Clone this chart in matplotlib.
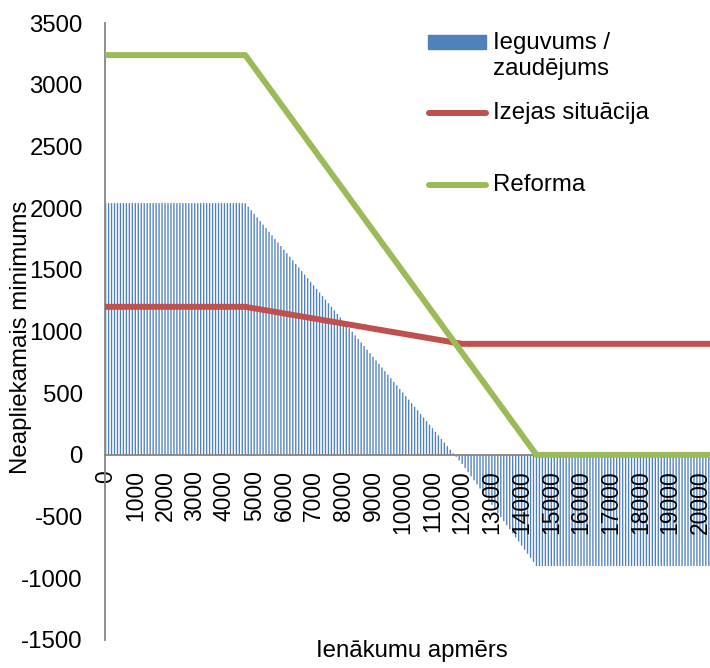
import numpy as np
import matplotlib
matplotlib.use("Agg")
import matplotlib.pyplot as plt
from matplotlib.lines import Line2D
from matplotlib.patches import Rectangle

plt.rcParams['font.family'] = ['Liberation Sans', 'DejaVu Sans']
plt.rcParams['axes.unicode_minus'] = False

# --- data ---
income = np.arange(0, 20301, 100)               # categories (income levels)
reform_x = [0, 4700, 14500, 20300]              # Reforma breakpoints
reform_y = [3240, 3240, 0, 0]
base_x = [0, 4700, 12000, 20300]                # Izejas situācija breakpoints
base_y = [1200, 1200, 900, 900]
xtick_vals = list(range(0, 20001, 1000))
xtick_labels = [str(v) for v in xtick_vals]
ytick_vals = list(range(-1500, 3501, 500))

labels = ["Ieguvums /\nzaudējums", "Izejas situācija", "Reforma"]
c_bar, c_base, c_ref = "#4F81BD", "#C0504D", "#9BBB59"

reform_all = np.interp(income, reform_x, reform_y)
base_all = np.interp(income, base_x, base_y)
gain = reform_all - base_all

FS = 17.3
W, H = 710, 668
fig = plt.figure(figsize=(W / 100, H / 100), dpi=100)
ax = fig.add_axes([105 / W, 1 - 640 / H, (710 - 105) / W, (640 - 23) / H])

for s in ['top', 'right']:
    ax.spines[s].set_visible(False)
ax.spines['bottom'].set_position(('data', 0))
for s in ['left', 'bottom']:
    ax.spines[s].set_color('#868686')
    ax.spines[s].set_linewidth(1.3)
ax.spines['bottom'].set_zorder(2)

ax.bar(income, gain, width=45, color=c_bar, linewidth=0, zorder=1, snap=False)
ax.plot(base_x, base_y, color=c_base, lw=4.3, zorder=3, solid_joinstyle='round')
ax.plot(reform_x, reform_y, color=c_ref, lw=4.3, zorder=4, solid_joinstyle='round')

ax.set_xlim(-20, 20340)
ax.set_ylim(-1500, 3500)
ax.set_yticks(ytick_vals)
ax.set_xticks(xtick_vals)
ax.set_xticklabels(xtick_labels, rotation=90, fontsize=FS - 0.8)
ax.tick_params(axis='y', length=0, pad=16, labelsize=FS)
ax.tick_params(axis='x', length=0, pad=11)

# axis titles
fig.text(21 / W, 1 - 337 / H, "Neapliekamais minimums", rotation=90,
         ha='center', va='center', fontsize=FS)
fig.text(412 / W, 1 - 651 / H, "Ienākumu apmērs", ha='center', va='center',
         fontsize=FS)

# manual legend (figure pixel coords)
fig.patches.append(Rectangle((428 / W, 1 - 49 / H), 58 / W, 14 / H,
                             transform=fig.transFigure, color=c_bar))
fig.text(493 / W, 1 - 56 / H, labels[0], ha='left', va='center', fontsize=FS,
         linespacing=1.2)
fig.lines.append(Line2D([429 / W, 486 / W], [1 - 113 / H, 1 - 113 / H],
                        transform=fig.transFigure, color=c_base, lw=4.3,
                        solid_capstyle='round'))
fig.text(493 / W, 1 - 113 / H, labels[1], ha='left', va='center', fontsize=FS)
fig.lines.append(Line2D([429 / W, 486 / W], [1 - 185 / H, 1 - 185 / H],
                        transform=fig.transFigure, color=c_ref, lw=4.3,
                        solid_capstyle='round'))
fig.text(493 / W, 1 - 185 / H, labels[2], ha='left', va='center', fontsize=FS)

fig.savefig("out.png", dpi=100)
